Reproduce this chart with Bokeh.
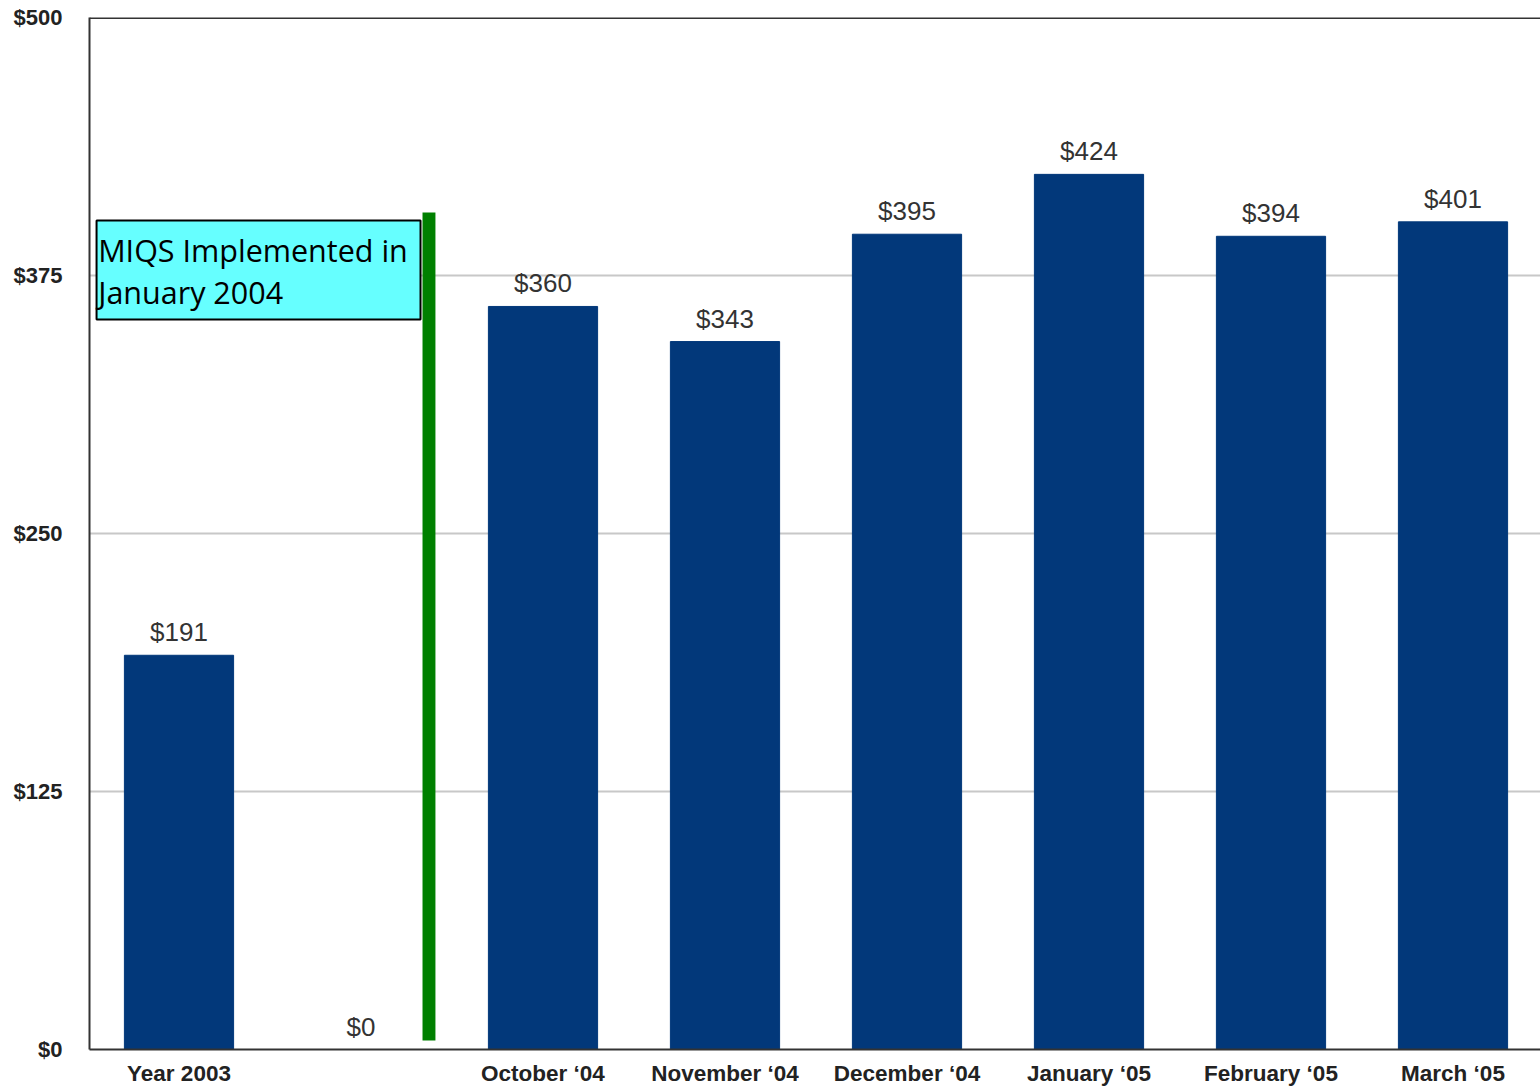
from bokeh.plotting import figure
from bokeh.models import Range1d, FixedTicker, Span
from bokeh.core.properties import value
from bokeh.embed import file_html
from bokeh.resources import INLINE

# ---- data ----
categories = ["Year 2003", "", "October \u201804", "November \u201804", "December \u201804",
              "January \u201805", "February \u201805", "March \u201805"]
amounts = [191, 0, 360, 343, 395, 424, 394, 401]
value_labels = ["$" + str(v) for v in amounts]
y_ticks = [0, 125, 250, 375, 500]
y_tick_labels = ["$0", "$125", "$250", "$375", "$500"]
note_lines = ["MIQS Implemented in", "January 2004"]

# ---- annotation geometry (data units) ----
NOTE_BOX = dict(left=0.047, right=1.827, bottom=353.7, top=401.6)
NOTE_TEXT_X = 0.056
NOTE_TEXT_Y = [387.5, 367.2]
GREEN_BAR = dict(left=1.838, right=1.909, bottom=4.4, top=405.5)

BAR_COLOR = "#02387a"
FONT = "Liberation Sans"

xs = [i + 0.5 for i in range(len(categories))]
x_start = 1.5 / 182
x_end = x_start + 1451 / 182

p = figure(width=1540, height=1089, output_backend="svg", toolbar_location=None,
           x_range=Range1d(x_start, x_end), y_range=Range1d(0, 500),
           min_border_left=89, min_border_right=0, min_border_top=17, min_border_bottom=40)
p.outline_line_color = None
p.background_fill_color = "white"
p.border_fill_color = "white"

p.vbar(x=xs, top=amounts, width=0.6, fill_color=BAR_COLOR, line_color=BAR_COLOR)

p.text(x=xs, y=amounts, text=value_labels, text_align="center", text_baseline="middle",
       y_offset=-23, text_font=value(FONT), text_font_size="26px", text_color="#333333")

# top border line
p.add_layout(Span(location=500, dimension="width", line_color="#333333", line_width=3))

# annotations
p.quad(fill_color="#008000", line_color=None, **GREEN_BAR)
p.quad(fill_color="#66ffff", line_color="black", line_width=2, **NOTE_BOX)
p.text(x=[NOTE_TEXT_X] * 2, y=NOTE_TEXT_Y, text=note_lines, text_align="left",
       text_baseline="middle", text_font=value("Open Sans"), text_font_size="30.5px",
       text_color="black")

# axes
xa = p.xaxis[0]
xa.ticker = FixedTicker(ticks=[x for x, c in zip(xs, categories) if c])
xa.major_label_overrides = {x: c for x, c in zip(xs, categories) if c}
xa.major_tick_line_color = None
xa.minor_tick_line_color = None
xa.major_tick_out = 0
xa.major_label_standoff = 11
xa.axis_line_color = "#333333"
xa.axis_line_width = 2
xa.major_label_text_font = FONT
xa.major_label_text_font_style = "bold"
xa.major_label_text_font_size = "22.5px"
xa.major_label_text_color = "#222222"

ya = p.yaxis[0]
ya.ticker = FixedTicker(ticks=y_ticks)
ya.major_label_overrides = {t: l for t, l in zip(y_ticks, y_tick_labels)}
ya.major_tick_line_color = None
ya.minor_tick_line_color = None
ya.major_tick_out = 0
ya.major_label_standoff = 27
ya.axis_line_color = "#333333"
ya.axis_line_width = 2
ya.major_label_text_font = FONT
ya.major_label_text_font_style = "bold"
ya.major_label_text_font_size = "22px"
ya.major_label_text_color = "#222222"

p.xgrid.visible = False
p.ygrid.ticker = FixedTicker(ticks=y_ticks[1:-1])
p.ygrid.grid_line_color = "#c8c8c8"
p.ygrid.grid_line_width = 2

open("out.html", "w").write(file_html(p, INLINE))
